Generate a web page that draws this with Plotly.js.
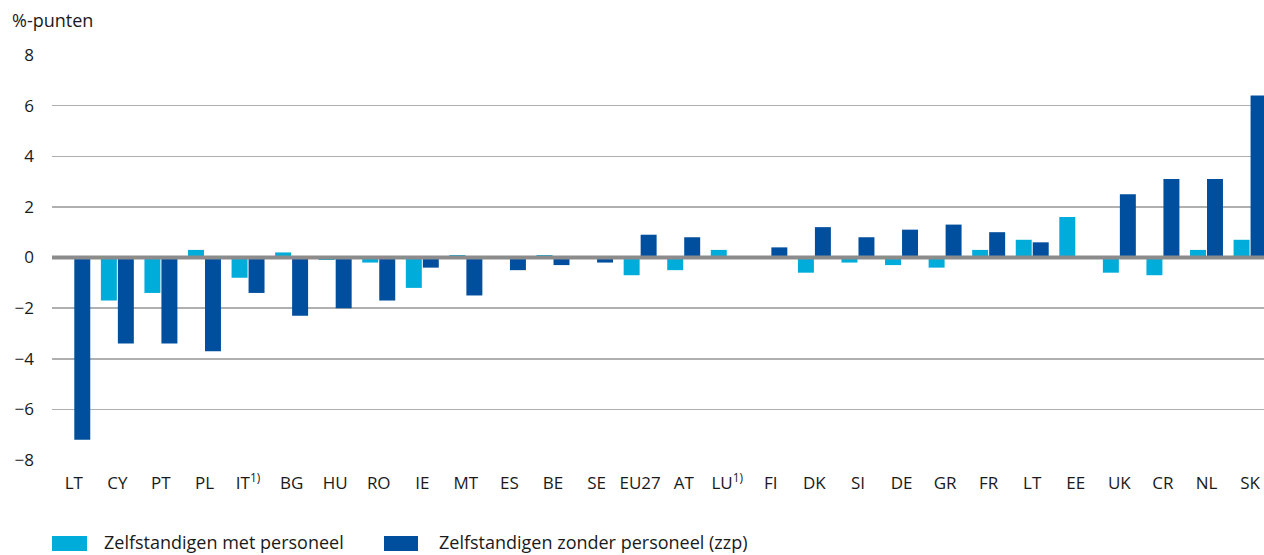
<!DOCTYPE html>
<html>
<head>
<meta charset="utf-8">
<script src="https://cdn.plot.ly/plotly-3.0.1.min.js"></script>
<style>html,body{margin:0;padding:0;background:#fff;}#chart{width:1264px;height:555px;}</style>
</head>
<body>
<div id="chart"></div>
<script>
var categories = ["LT","CY","PT","PL","IT<sup>1)</sup>","BG","HU","RO","IE","MT","ES","BE","SE","EU27","AT","LU<sup>1)</sup>","FI","DK","SI","DE","GR","FR","LT","EE","UK","CR","NL","SK"];
var metPersoneel =   [0, -1.7, -1.4, 0.3, -0.8, 0.2, -0.1, -0.2, -1.2, 0.1, 0, 0.1, 0, -0.7, -0.5, 0.3, 0, -0.6, -0.2, -0.3, -0.4, 0.3, 0.7, 1.6, -0.6, -0.7, 0.3, 0.7];
var zonderPersoneel = [-7.2, -3.4, -3.4, -3.7, -1.4, -2.3, -2.0, -1.7, -0.4, -1.5, -0.5, -0.3, -0.2, 0.9, 0.8, 0, 0.4, 1.2, 0.8, 1.1, 1.3, 1.0, 0.6, 0, 2.5, 3.1, 3.1, 6.4];
var seriesNames = ["Zelfstandigen met personeel", "Zelfstandigen zonder personeel (zzp)"];
var colors = ["#00acd9", "#004f9e"];
var yTicks = [-8, -6, -4, -2, 0, 2, 4, 6, 8];

var pos = categories.map(function(_, i){ return i; });
var FONT = "Open Sans, Noto Sans, sans-serif";

var traces = [
  {type:"bar", x:pos, y:metPersoneel, name:seriesNames[0], marker:{color:colors[0]}, showlegend:false, hoverinfo:"y"},
  {type:"bar", x:pos, y:zonderPersoneel, name:seriesNames[1], marker:{color:colors[1]}, showlegend:false, hoverinfo:"y"}
];

var W = 1264, H = 555, L = 52, T = 55, B = 95;
var plotH = H - T - B, plotW = W - L;
function px2paperX(px){ return (px - L) / plotW; }
function px2paperY(py){ return (H - B - py) / plotH; }

var legendItems = [{x0:52, x1:87, tx:102}, {x0:384, x1:418, tx:437}];
var shapes = [{type:"line", xref:"paper", x0:0, x1:1, yref:"y", y0:0, y1:0, line:{color:"#8c8c8c", width:4}, layer:"above"}];
var annotations = [];
legendItems.forEach(function(it, k){
  shapes.push({type:"rect", xref:"paper", yref:"paper", x0:px2paperX(it.x0), x1:px2paperX(it.x1), y0:px2paperY(551), y1:px2paperY(536), fillcolor:colors[k], line:{width:0}});
  annotations.push({xref:"paper", yref:"paper", x:px2paperX(it.tx), y:px2paperY(542), xanchor:"left", yanchor:"middle", showarrow:false, text:seriesNames[k], font:{family:FONT, size:18, color:"#1a1a1a"}});
});

var layout = {
  width: W, height: H,
  margin: {l:L, r:0, t:T, b:B, pad:0},
  paper_bgcolor:"#fff", plot_bgcolor:"#fff",
  barmode:"group", bargap:0.22, bargroupgap:0.06,
  title:{text:"%-punten", x:12/W, xanchor:"left", xref:"container", y:1-21/H, yanchor:"middle", yref:"container", font:{family:FONT, size:18, color:"#1a1a1a"}},
  xaxis:{range:[-0.5, 27.32], tickmode:"array", tickvals:pos, ticktext:categories, showgrid:false, zeroline:false, showline:false, ticks:"", tickfont:{family:FONT, size:17, color:"#1a1a1a"}, ticklabelstandoff:11, fixedrange:true},
  yaxis:{range:[-8, 8], tickmode:"array", tickvals:yTicks, ticktext:yTicks.map(function(v){return v<0 ? "\u2212"+Math.abs(v) : String(v);}), showgrid:true, gridcolor:"#b0b0b0", gridwidth:1.5, zeroline:false, showline:false, ticks:"", tickfont:{family:FONT, size:17, color:"#1a1a1a"}, ticklabelstandoff:17, fixedrange:true},
  shapes: shapes,
  annotations: annotations,
  showlegend:false
};

Plotly.newPlot("chart", traces, layout, {displayModeBar:false, staticPlot:true});
</script>
</body>
</html>
